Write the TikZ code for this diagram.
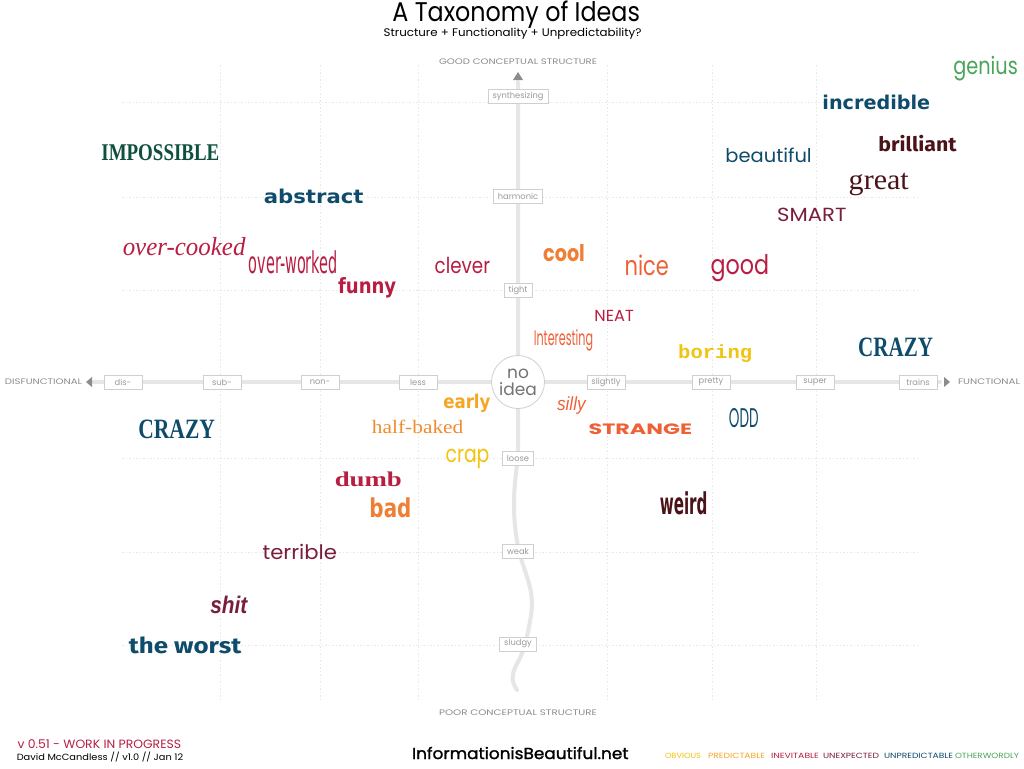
\documentclass[tikz,border=0pt]{standalone}
\usepackage{fontspec}
\setmainfont{Poppins}
\newfontfamily\pop{Poppins}
\newfontfamily\popsemi{Poppins}[FakeBold=1.3]
\newfontfamily\djv{DejaVu Sans}
\newfontfamily\fira{Fira Sans}
\newfontfamily\lser{Liberation Serif}
\newfontfamily\lsans{Liberation Sans}
\newfontfamily\lmono{Liberation Mono}
\newcommand\fitw[2]{\resizebox{#1}{\height}{#2}}
\newcommand\fitword[2]{\resizebox{\dimexpr #1*104/100\relax}{\height}{#2}}
\newcommand\fs[1]{\fontsize{#1}{#1}\selectfont}
\definecolor{cgreen}{HTML}{4AA55A}
\definecolor{cnavy}{HTML}{0F4C6B}
\definecolor{cdkmar}{HTML}{4A1318}
\definecolor{cmar}{HTML}{7A1D3C}
\definecolor{ccrim}{HTML}{B81E42}
\definecolor{corange}{HTML}{F07F33}
\definecolor{ccoral}{HTML}{EE6136}
\definecolor{cyellow}{HTML}{F2C30F}
\definecolor{camber}{HTML}{F6A623}
\definecolor{cdkgreen}{HTML}{0E4F3E}
\definecolor{caxis}{HTML}{E6E6E6}
\definecolor{cgrid}{HTML}{E8E8E8}
\definecolor{ctick}{HTML}{CFCFCF}
\definecolor{ctext}{HTML}{9A9A9A}
\definecolor{carrow}{HTML}{8C8C8C}
\tikzset{
  word/.style={inner sep=0pt, anchor=center},
  gridline/.style={draw=cgrid, line width=0.8pt, dash pattern=on 1.5pt off 2pt},
  axisline/.style={draw=caxis, line width=4pt, line cap=round},
  tickbox/.style={draw=ctick, fill=white, text=ctext, line width=0.8pt,
     font=\pop\fs{8.3}, minimum height=14pt, inner xsep=4.5pt, inner ysep=1pt},
  htick/.style={tickbox, minimum width=38pt},
  axlabel/.style={inner sep=0pt, text=carrow, font=\pop\fs{8}},
  legend/.style={inner sep=0pt, font=\pop\fs{7.5}},
}
\begin{document}
\begin{tikzpicture}[x=1pt,y=-1pt]
\useasboundingbox (0,0) rectangle (1024,768);
\fill[white] (0,0) rectangle (1024,768);
% grid
\foreach \yy in {102,197,290,458,552,645} \draw[gridline] (122,\yy) -- (918,\yy);
\foreach \xx in {220,320,418,607,712,816} \draw[gridline] (\xx,65) -- (\xx,700);
% axes
\coordinate (hL) at (93,382);
\coordinate (hR) at (940,382);
\coordinate (vT) at (518,82);
\coordinate (vM) at (518,458);
\coordinate (vB) at (517,690);
\draw[axisline] (hL) -- (hR);
\draw[axisline] (vT) -- (vM) .. controls (513,490) and (512,520) .. (519,551)
   .. controls (525,575) and (535,590) .. (531,615)
   .. controls (528,635) and (524,650) .. (519,660)
   .. controls (512,672) and (510,680) .. (vB);
\fill[carrow] (513,80) -- (518,72) -- (523,80) -- cycle;
\fill[carrow] (92,377) -- (86,382) -- (92,387) -- cycle;
\fill[carrow] (944,377) -- (950,382) -- (944,387) -- cycle;
% axis labels
\node[axlabel] (good) at (518,62) {\fitw{158pt}{GOOD CONCEPTUAL STRUCTURE}};
\node[axlabel] (poor) at (518,713) {\fitw{158pt}{POOR CONCEPTUAL STRUCTURE}};
\node[axlabel] (disf) at (43.5,382) {\fitw{77pt}{DISFUNCTIONAL}};
\node[axlabel] (func) at (989,382) {\fitw{62pt}{FUNCTIONAL}};
% ticks
\node[htick] (t1) at (123,382) {dis-};
\node[htick] (t2) at (222,382) {sub-};
\node[htick] (t3) at (320,382) {non-};
\node[htick] (t4) at (418,382) {less};
\node[htick] (t5) at (606,382) {slightly};
\node[htick] (t6) at (711,382) {pretty};
\node[htick] (t7) at (815,382) {super};
\node[htick] (t8) at (918,382) {trains};
\node[tickbox] (v1) at (518,96) {synthesizing};
\node[tickbox] (v2) at (518,196) {harmonic};
\node[tickbox] (v3) at (518,290) {tight};
\node[tickbox] (v4) at (518,458) {loose};
\node[tickbox] (v5) at (518,551) {weak};
\node[tickbox] (v6) at (518,644) {sludgy};
% no idea
\node[circle, draw=ctick, fill=white, line width=0.8pt, minimum size=53pt, inner sep=0pt,
  text=gray!90!black, align=center, font=\pop\fontsize{17}{17}\selectfont] (noidea) at (518,382) {no\\idea};
% title
\node[word] (title) at (513,15) {\fitw{254pt}{\pop\fs{27} A Taxonomy of Ideas}};
\node[word] (subtitle) at (511,34) {\fitw{261pt}{\pop\fs{11} Structure + Functionality + Unpredictability?}};
% words
\node[word, text=cgreen] (genius) at (983,69) {\fitword{67pt}{\pop\fs{24} genius}};
\node[word, text=cnavy] (incredible) at (873,102) {\fitword{110pt}{\djv\bfseries\fs{19} incredible}};
\node[word, text=cdkmar] (brilliant) at (915,144) {\fitword{80pt}{\fira\bfseries\fs{20} brilliant}};
\node[word, text=cnavy] (beautiful) at (766,155) {\fitword{88pt}{\pop\fs{19} beautiful}};
\node[word, text=cdkmar] (great) at (875,184) {\fitword{65pt}{\lser\fs{29} great}};
\node[word, text=cmar] (smart) at (809,215) {\fitword{72pt}{\pop\fs{19} SMART}};
\node[word, text=cdkgreen] (impossible) at (158,153) {\fitword{118pt}{\lser\bfseries\fs{24} IMPOSSIBLE}};
\node[word, text=cnavy] (abstract) at (310,196) {\fitword{103pt}{\djv\bfseries\fs{19} abstract}};
\node[word, text=ccrim] (overcooked) at (181,247) {\fitword{124pt}{\lser\itshape\fs{26} over-cooked}};
\node[word, text=ccrim] (overworked) at (291,262) {\fitword{90pt}{\djv\fs{30} over-worked}};
\node[word, text=ccrim] (funny) at (364,288) {\fitword{62pt}{\djv\bfseries\fs{21} funny}};
\node[word, text=ccrim] (clever) at (460,265) {\fitword{58pt}{\pop\fs{22} clever}};
\node[word, text=corange] (cool) at (562,253) {\fitword{44pt}{\pop\bfseries\fs{23} cool}};
\node[word, text=ccoral] (nice) at (644,265) {\fitword{48pt}{\pop\fs{27} nice}};
\node[word, text=ccrim] (good2) at (737,268) {\fitword{62pt}{\pop\fs{27} good}};
\node[word, text=ccrim] (neat) at (612,316) {\fitword{42pt}{\pop\fs{16} NEAT}};
\node[word, text=ccoral] (interesting) at (562,340) {\fitword{60pt}{\pop\fs{21} Interesting}};
\node[word, text=cyellow] (boring) at (709,354) {\fitword{83pt}{\lmono\bfseries\fs{19} boring}};
\node[word, text=cnavy] (crazyR) at (893,347) {\fitword{77pt}{\lser\bfseries\fs{28} CRAZY}};
\node[word, text=cnavy] (crazyL) at (174,429) {\fitword{79pt}{\lser\bfseries\fs{28} CRAZY}};
\node[word, text=camber] (early) at (464,403) {\fitword{51pt}{\djv\bfseries\fs{19} early}};
\node[word, text=ccoral] (silly) at (569,406) {\fitword{32pt}{\lsans\itshape\fs{19} silly}};
\node[word, text=corange!90!yellow] (halfbaked) at (415,427) {\fitword{93pt}{\lser\fs{19} half-baked}};
\node[word, text=ccoral] (strange) at (638,429) {\fitword{104pt}{\pop\bfseries\fs{15} STRANGE}};
\node[word, text=cnavy] (odd) at (742,418) {\fitword{32pt}{\pop\fs{27} ODD}};
\node[word, text=cyellow] (crap) at (465,459) {\fitword{47pt}{\pop\fs{24} crap}};
\node[word, text=ccrim] (dumb) at (365,479) {\fitword{71pt}{\lser\bfseries\fs{21} dumb}};
\node[word, text=corange] (bad) at (387,508) {\fitword{47pt}{\djv\bfseries\fs{26} bad}};
\node[word, text=cdkmar] (weird) at (681,503) {\fitword{51pt}{\djv\bfseries\fs{30} weird}};
\node[word, text=cmar] (terrible) at (297,552) {\fitword{77pt}{\pop\fs{20} terrible}};
\node[word, text=cmar] (shit) at (226,605) {\fitword{41pt}{\lsans\bfseries\itshape\fs{24} shit}};
\node[word, text=cnavy] (worst) at (182,645) {\fitword{114pt}{\fira\bfseries\fs{22} the worst}};
% footer
\node[word, anchor=west, text=ccrim] (version) at (14,744) {\fitw{167pt}{\pop\fs{12} v 0.51 - WORK IN PROGRESS}};
\node[word, anchor=west, text=black] (author) at (14,757) {\fitw{169pt}{\pop\fs{9} David McCandless // v1.0 // Jan 12}};
\node[word, text=black] (site) at (518,753) {\fitw{221pt}{\popsemi\fs{16} InformationisBeautiful.net}};
\node[legend, text=cyellow] (l1) at (683,756) {\fitw{36pt}{OBVIOUS}};
\node[legend, text=camber] (l2) at (736.5,756) {\fitw{57pt}{PREDICTABLE}};
\node[legend, text=ccrim] (l3) at (795,756) {\fitw{48pt}{INEVITABLE}};
\node[legend, text=cmar] (l4) at (851,756) {\fitw{56pt}{UNEXPECTED}};
\node[legend, text=cnavy] (l5) at (918.5,756) {\fitw{69pt}{UNPREDICTABLE}};
\node[legend, text=cgreen] (l6) at (987,756) {\fitw{64pt}{OTHERWORDLY}};
\end{tikzpicture}
\end{document}
